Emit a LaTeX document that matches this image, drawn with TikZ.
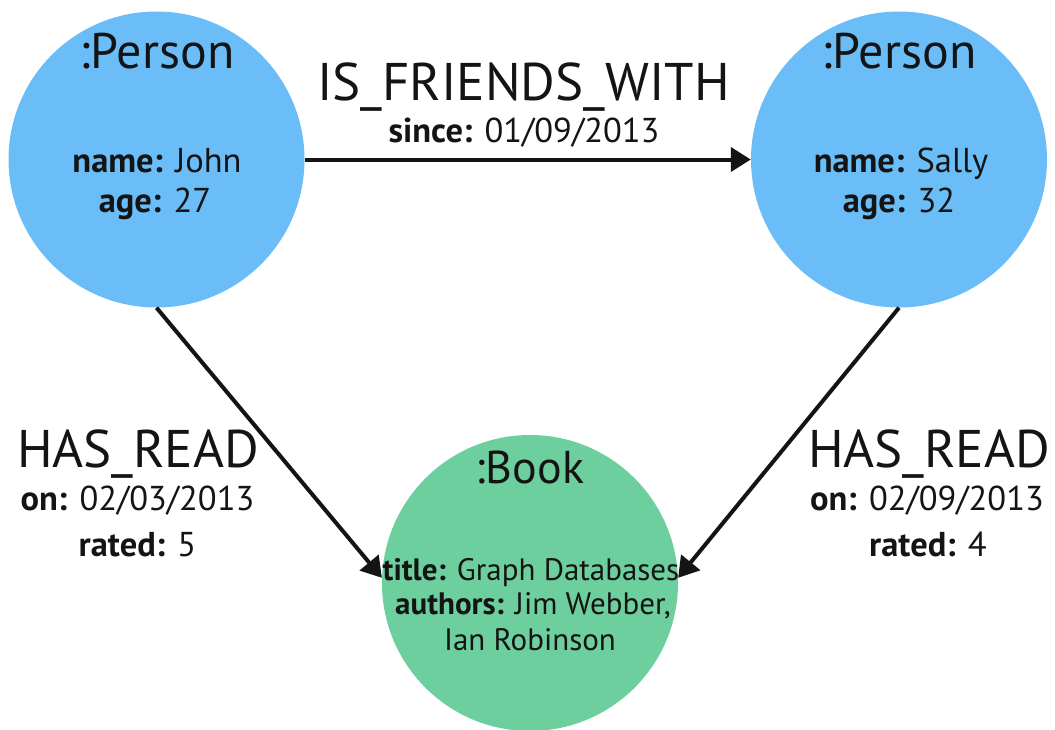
\documentclass[tikz,border=0pt]{standalone}
\usepackage{fontspec}
\setmainfont{PT Sans}
\usetikzlibrary{arrows.meta}
\definecolor{personblue}{RGB}{106,189,246}
\definecolor{bookgreen}{RGB}{109,207,157}
\definecolor{inkcol}{RGB}{20,20,20}
\begin{document}
\begin{tikzpicture}[x=1pt,y=-1pt,
  entity/.style={circle, inner sep=0pt, minimum size=296pt},
  ttl/.style={font=\fontsize{50}{54}\selectfont, anchor=base, inner sep=0pt, text=inkcol},
  prop/.style={font=\fontsize{34.5}{40}\selectfont, anchor=base, inner sep=0pt, text=inkcol},
  bprop/.style={font=\fontsize{31}{36}\selectfont, anchor=base, inner sep=0pt, text=inkcol},
  rel/.style={font=\fontsize{53}{58}\selectfont, anchor=base, inner sep=0pt, text=inkcol},
  conn/.style={line width=4pt, draw=inkcol, -{Triangle[length=20pt,width=24pt]}}]
\useasboundingbox (0,0) rectangle (1055,729);
% entities
\node[entity, fill=personblue] (john) at (156.5,159.5) {};
\node[entity, fill=personblue] (sally) at (899,159.5) {};
\node[entity, fill=bookgreen] (book) at (530,583) {};
% John
\node[ttl] (johnT) at (157,68) {:Person};
\node[prop] (johnN) at (157,172) {\textbf{name:} John};
\node[prop] (johnA) at (155,212) {\textbf{age:} 27};
% Sally
\node[ttl] (sallyT) at (899,68) {:Person};
\node[prop] (sallyN) at (901,172) {\textbf{name:} Sally};
\node[prop] (sallyA) at (899,212) {\textbf{age:} 32};
% Book
\node[ttl, font=\fontsize{46}{50}\selectfont] (bookT) at (530,483) {:Book};
\node[bprop] (bookTi) at (531,580) {\textbf{title:} Graph Databases};
\node[bprop] (bookAu) at (533,614) {\textbf{authors:} Jim Webber,};
\node[bprop] (bookAu2) at (530,650) {Ian Robinson};
% relationships
\draw[conn] (john.east) -- (sally.west);
\draw[conn] (john.south) -- (book.178);
\draw[conn] (sally.south) -- (book.2);
% relationship labels
\node[rel] (friendsL) at (523.5,100) {IS\_FRIENDS\_WITH};
\node[prop] (friendsP) at (524,142) {\textbf{since:} 01/09/2013};
\node[rel] (readL1) at (138,467) {HAS\_READ};
\node[prop] (readO1) at (137.5,510) {\textbf{on:} 02/03/2013};
\node[prop] (readR1) at (137.5,556) {\textbf{rated:} 5};
\node[rel] (readL2) at (929,467) {HAS\_READ};
\node[prop] (readO2) at (927,510) {\textbf{on:} 02/09/2013};
\node[prop] (readR2) at (928,556) {\textbf{rated:} 4};
\end{tikzpicture}
\end{document}
